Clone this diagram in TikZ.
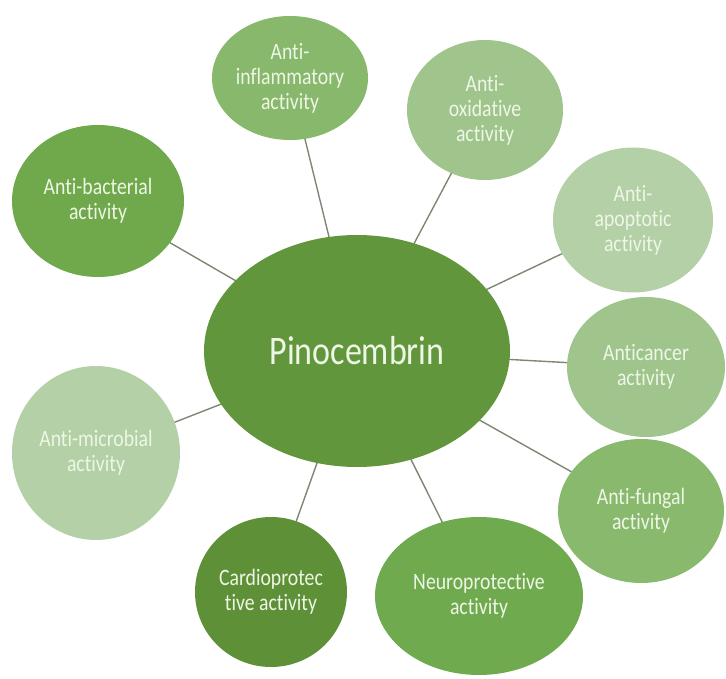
\documentclass[tikz,border=0pt]{standalone}
\usepackage{fontspec}
\setmainfont{Carlito}[FakeStretch=0.84, Ligatures={NoCommon}]
\usetikzlibrary{shapes.geometric,backgrounds}
\definecolor{cCenter}{RGB}{98,150,60}
\definecolor{cBact}{RGB}{112,168,76}
\definecolor{cInfl}{RGB}{135,184,108}
\definecolor{cOxid}{RGB}{160,197,140}
\definecolor{cApop}{RGB}{180,208,166}
\definecolor{cCanc}{RGB}{160,197,140}
\definecolor{cFung}{RGB}{136,185,108}
\definecolor{cNeuro}{RGB}{112,170,78}
\definecolor{cCardio}{RGB}{94,144,56}
\definecolor{cMicro}{RGB}{180,208,166}
\definecolor{cText}{RGB}{238,246,230}
\definecolor{cLine}{RGB}{125,135,115}
\tikzset{
  bub/.style={ellipse, draw=none, inner sep=0pt, align=center, text=cText,
    font=\fontsize{23.5}{25}\selectfont},
  link/.style={draw=cLine, line width=1.4pt}
}
\begin{document}
\begin{tikzpicture}[x=1pt,y=-1pt]
\useasboundingbox (0,0) rectangle (726,679);
\node[bub, fill=cCenter, minimum width=306pt, minimum height=232pt, font=\fontsize{40.5}{46}\selectfont] (c) at (357,351) {Pinocembrin};
\node[bub, fill=cInfl, minimum width=156pt, minimum height=124pt] (infl) at (290,78) {Anti-\\inflammatory\\activity};
\node[bub, fill=cOxid, minimum width=156pt, minimum height=140pt] (oxid) at (485,110) {Anti-\\oxidative\\activity};
\node[bub, fill=cApop, minimum width=160pt, minimum height=145pt] (apop) at (633,220) {Anti-\\apoptotic\\activity};
\node[bub, fill=cCanc, minimum width=158pt, minimum height=140pt] (canc) at (646,367) {Anticancer\\activity};
\node[bub, fill=cFung, minimum width=166pt, minimum height=144pt] (fung) at (641,511) {Anti-fungal\\activity};
\node[bub, fill=cNeuro, minimum width=208pt, minimum height=158pt] (neuro) at (479,596) {Neuroprotective\\activity};
\node[bub, fill=cCardio, minimum width=152pt, minimum height=150pt] (cardio) at (271,592) {Cardioprotec\\tive activity};
\node[bub, fill=cMicro, minimum width=168pt, minimum height=174pt] (micro) at (96,453) {Anti-microbial\\activity};
\node[bub, fill=cBact, minimum width=172pt, minimum height=152pt] (bact) at (98,201) {Anti-bacterial\\activity};
\begin{pgfonlayer}{background}
\foreach \n in {infl,oxid,apop,canc,fung,neuro,cardio,micro,bact}
  \draw[link] (c.center) -- (\n.center);
\end{pgfonlayer}
\end{tikzpicture}
\end{document}
